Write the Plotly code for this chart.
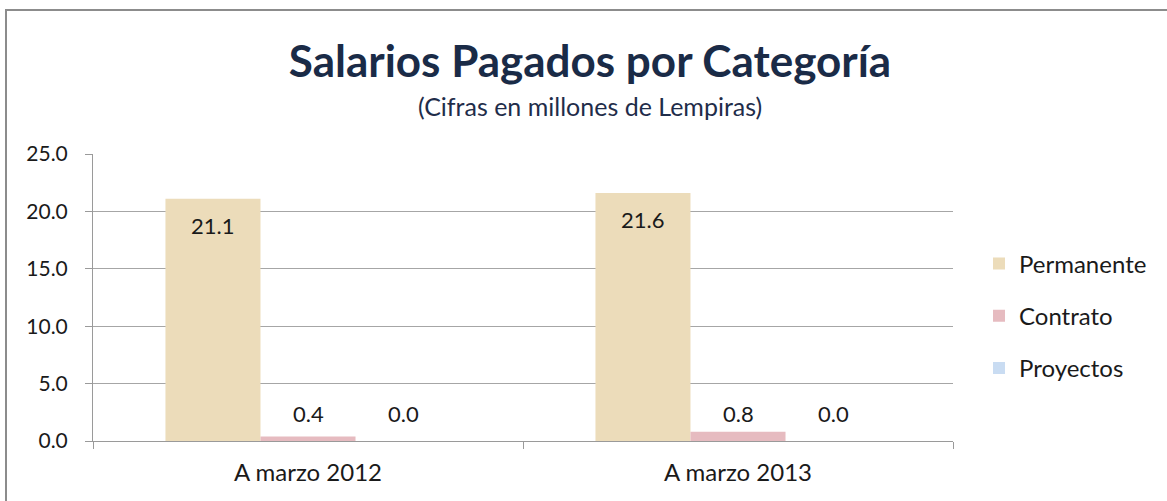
import plotly.graph_objects as go

categories = ["A marzo 2012", "A marzo 2013"]
series_names = ["Permanente", "Contrato", "Proyectos"]
permanente = [21.1, 21.6]
contrato = [0.4, 0.8]
proyectos = [0.0, 0.0]
y_ticks = [0, 5, 10, 15, 20, 25]

colors = ["#ECDCBA", "#E6BBC0", "#C9DCF2"]
FONT = "Lato"
TXT = "#1a1a1a"

W, H = 1167, 501
PL, PT, PW, PH = 93, 154, 860, 287

def px_x(page_x):
    return (page_x - PL) / PW

def px_y(page_y):
    return (PT + PH - page_y) / PH

fig = go.Figure()
values_list = [permanente, contrato, proyectos]
for name, vals, col in zip(series_names, values_list, colors):
    fig.add_trace(go.Bar(
        x=categories, y=vals, name=name,
        marker=dict(color=col, line=dict(width=0)),
        legendgroup=name,
    ))

bargap = 0.337
bw = (1 - bargap) / 3
offsets = [-bw, 0, bw]
annotations = []
for si, vals in enumerate(values_list):
    for ci, v in enumerate(vals):
        if v > 5:
            annotations.append(dict(x=ci + offsets[si], y=v, xref="x", yref="y",
                                    text=f"{v:.1f}", showarrow=False, yanchor="top", yshift=-11,
                                    font=dict(family=FONT, size=22, color=TXT)))
        else:
            annotations.append(dict(x=ci + offsets[si], y=0, xref="x", yref="y",
                                    text=f"{v:.1f}", showarrow=False, yanchor="bottom", yshift=12,
                                    font=dict(family=FONT, size=22, color=TXT)))

annotations.append(dict(text="(Cifras en millones de Lempiras)", xref="paper", yref="paper",
                        x=px_x(590), y=px_y(106), showarrow=False,
                        xanchor="center", yanchor="middle",
                        font=dict(family=FONT, size=25, color="#1F2D4A")))

fig.update_layout(
    width=W, height=H,
    margin=dict(l=PL, r=W - PL - PW, t=PT, b=H - PT - PH),
    paper_bgcolor="white", plot_bgcolor="white",
    barmode="group", bargap=bargap, bargroupgap=0,
    title=dict(text="<b>Salarios Pagados por Categoría</b>", x=590 / W, xanchor="center",
               y=1 - 62 / H, yanchor="middle",
               font=dict(family=FONT, size=44, color="#1A2B47")),
    font=dict(family=FONT, size=22, color=TXT),
    legend=dict(x=px_x(979), y=px_y(316), xanchor="left", yanchor="middle",
                traceorder="grouped", tracegroupgap=18, itemwidth=30,
                font=dict(family=FONT, size=24, color=TXT), bgcolor="rgba(0,0,0,0)"),
    annotations=annotations,
    showlegend=True,
)
fig.update_xaxes(
    showgrid=False, showline=True, linecolor="#9A9A9A", linewidth=1,
    ticks="outside", tickson="boundaries", ticklen=7, tickcolor="#9A9A9A",
    tickfont=dict(family=FONT, size=24, color=TXT), ticklabelstandoff=10,
)
fig.update_yaxes(
    range=[0, 25], tickvals=y_ticks, tickformat=".1f",
    showgrid=True, gridcolor="#A6A6A6", gridwidth=1,
    showline=True, linecolor="#9A9A9A", linewidth=1,
    ticks="outside", ticklen=7, tickcolor="#9A9A9A",
    tickfont=dict(family=FONT, size=21, color=TXT), zeroline=False, ticklabelstandoff=13,
)
fig.add_shape(type="rect", xref="paper", yref="paper",
              x0=px_x(6), x1=2.0, y0=-1.0, y1=px_y(10),
              line=dict(color="#8C8C8C", width=2), fillcolor="rgba(0,0,0,0)", layer="below")

fig.write_html("out.html", config={"displayModeBar": False},
               post_script="document.body.style.margin='0px';")
